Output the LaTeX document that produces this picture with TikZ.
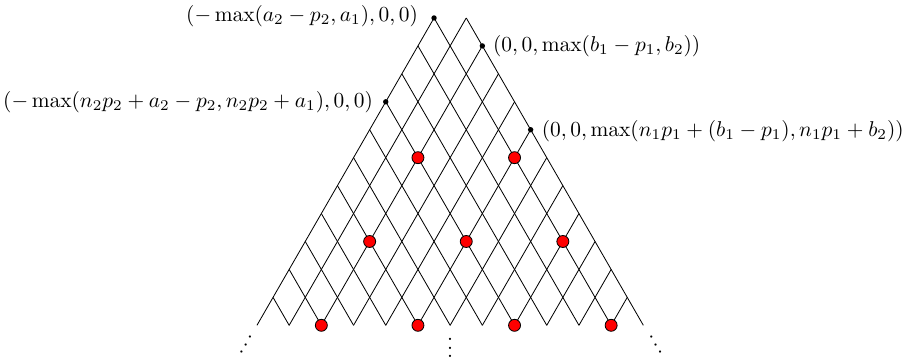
\documentclass[tikz,border=0pt]{standalone}
\usepackage{tikz}
\usetikzlibrary{positioning}
\definecolor{DotRed}{RGB}{255,0,0}
\newcommand{\bigtext}[1]{\scalebox{1.43}{#1}}
\tikzset{
  edge/.style={draw=black,line width=0.55pt},
  blackdot/.style={circle,fill=black,inner sep=0pt,minimum size=3.6pt},
  reddot/.style={circle,draw=black,fill=DotRed,inner sep=0pt,
    minimum size=8pt,line width=0.55pt},
  corner/.style={inner sep=0pt},
  moredots/.style={inner sep=0pt}
}

\begin{document}
\begin{tikzpicture}[x=0.378cm,y=0.656cm]
  \useasboundingbox (-26.96,0.643) rectangle (29.19,-12.25);
  \foreach \k in {0,...,10} {
    \coordinate (l\k) at (-\k,-\k);
    \coordinate (r\k) at (2+\k,-\k);
  }
  \foreach \j in {0,...,12}
    \coordinate (b\j) at (-11+2*\j,-11);
  \draw[edge] (l0) -- (b0);
  \draw[edge] (r0) -- (b12);
  \foreach \k [evaluate=\k as \m using int(11-\k),
               evaluate=\k as \n using int(\k+1)] in {0,...,10} {
    \draw[edge] (l\k) -- (b\m);
    \draw[edge] (r\k) -- (b\n);
  }
  \node[blackdot] (top) at (l0) {};
  \node[blackdot] (rtop) at (r1) {};
  \node[blackdot] (lmid) at (l3) {};
  \node[blackdot] (rmid) at (r4) {};
  \node[corner,left=8.6pt of top,yshift=1.5pt] (toplabel) {\bigtext{$(-\max(a_2-p_2,a_1),0,0)$}};
  \node[corner,right=5pt of rtop] (rtoplabel) {\bigtext{$(0,0,\max(b_1-p_1,b_2))$}};
  \node[corner,left=6.4pt of lmid] (lmidlabel) {\bigtext{$(-\max(n_2p_2+a_2-p_2,n_2p_2+a_1),0,0)$}};
  \node[corner,right=5.3pt of rmid,yshift=-1pt] (rmidlabel) {\bigtext{$(0,0,\max(n_1p_1+(b_1-p_1),n_1p_1+b_2))$}};
  \foreach \x/\y [count=\i] in {-1/-5,5/-5,-4/-8,2/-8,8/-8,-7/-11,-1/-11,5/-11,11/-11}
    \node[reddot] (red\i) at (\x,\y) {};
  \node[moredots,rotate=-30] (ldots) at (-11.5,-11.49) {\bigtext{$\vdots$}};
  \node[moredots] (mdots) at (1,-11.59) {\bigtext{$\vdots$}};
  \node[moredots,rotate=30] (rdots) at (13.57,-11.49) {\bigtext{$\vdots$}};
\end{tikzpicture}
\end{document}
